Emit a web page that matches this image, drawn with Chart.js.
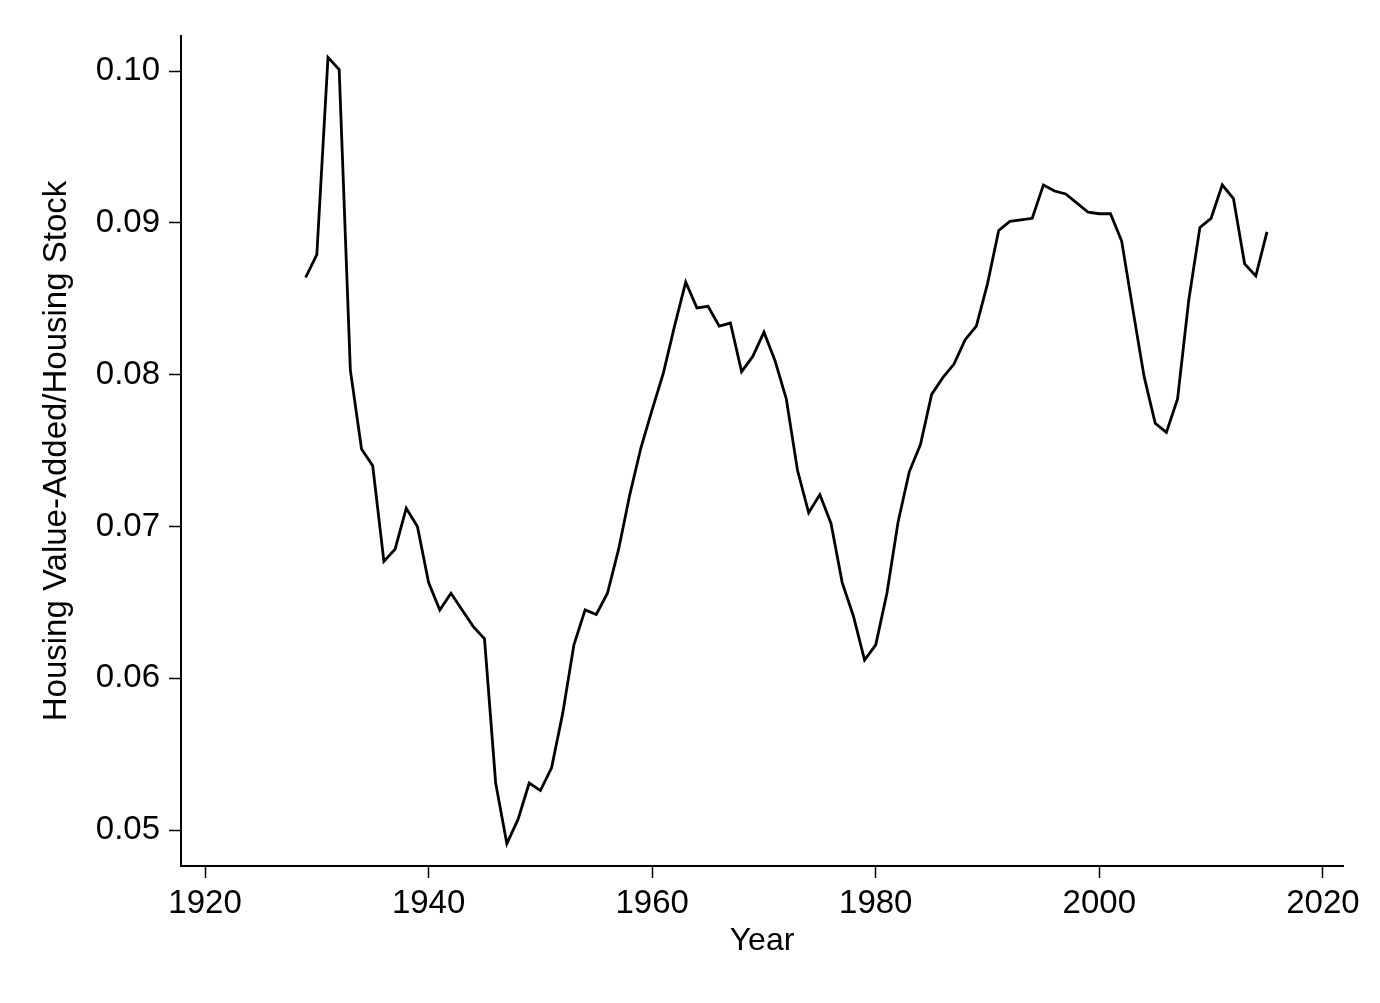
<!DOCTYPE html>
<html>
<head>
<meta charset="utf-8">
<script src="https://cdn.jsdelivr.net/npm/chart.js@4"></script>
<style>
  body { margin: 0; background: #fff; }
  #wrap { width: 1380px; height: 1003px; }
</style>
</head>
<body>
<div id="wrap"><canvas id="myChart"></canvas></div>
<script>
const years = [
  1929,
  1930, 1931, 1932, 1933, 1934, 1935, 1936, 1937, 1938, 1939,
  1940, 1941, 1942, 1943, 1944, 1945, 1946, 1947, 1948, 1949,
  1950, 1951, 1952, 1953, 1954, 1955, 1956, 1957, 1958, 1959,
  1960, 1961, 1962, 1963, 1964, 1965, 1966, 1967, 1968, 1969,
  1970, 1971, 1972, 1973, 1974, 1975, 1976, 1977, 1978, 1979,
  1980, 1981, 1982, 1983, 1984, 1985, 1986, 1987, 1988, 1989,
  1990, 1991, 1992, 1993, 1994, 1995, 1996, 1997, 1998, 1999,
  2000, 2001, 2002, 2003, 2004, 2005, 2006, 2007, 2008, 2009,
  2010, 2011, 2012, 2013, 2014, 2015,
];

const ratio = [
  0.0864,
  0.0879, 0.1009, 0.1001, 0.0803, 0.0751, 0.0740, 0.0677, 0.0685, 0.0712, 0.0700,
  0.0663, 0.0645, 0.0656, 0.0645, 0.0634, 0.0626, 0.0531, 0.0491, 0.0507, 0.0531,
  0.0526, 0.0541, 0.0577, 0.0622, 0.0645, 0.0642, 0.0656, 0.0685, 0.0721, 0.0752,
  0.0777, 0.0801, 0.0832, 0.0861, 0.0844, 0.0845, 0.0832, 0.0834, 0.0802, 0.0812,
  0.0828, 0.0809, 0.0784, 0.0737, 0.0709, 0.0721, 0.0702, 0.0663, 0.0641, 0.0612,
  0.0622, 0.0656, 0.0703, 0.0736, 0.0754, 0.0787, 0.0798, 0.0807, 0.0823, 0.0832,
  0.0860, 0.0895, 0.0901, 0.0902, 0.0903, 0.0925, 0.0921, 0.0919, 0.0913, 0.0907,
  0.0906, 0.0906, 0.0888, 0.0843, 0.0799, 0.0768, 0.0762, 0.0784, 0.0849, 0.0897,
  0.0903, 0.0925, 0.0916, 0.0873, 0.0865, 0.0894,
];

const xTicks = [1920, 1940, 1960, 1980, 2000, 2020];
const yTicks = [0.05, 0.06, 0.07, 0.08, 0.09, 0.10];

const FONT = '"Liberation Sans", Arial, Helvetica, sans-serif';

const ctx = document.getElementById('myChart').getContext('2d');

const myChart = new Chart(ctx, {
  type: 'line',
  data: {
    datasets: [{
      data: years.map((yr, i) => ({ x: yr, y: ratio[i] })),
      borderColor: '#000',
      borderWidth: 2.8,
      pointRadius: 0,
      tension: 0,
      fill: false,
    }],
  },
  options: {
    responsive: true,
    maintainAspectRatio: false,
    animation: false,
    layout: {
      padding: { top: 36, right: 37, left: 0, bottom: 0 },
    },
    plugins: {
      legend: { display: false },
      tooltip: { enabled: false },
    },
    scales: {
      x: {
        type: 'linear',
        min: 1917.85,
        max: 2021.8,
        afterBuildTicks: (scale) => { scale.ticks = xTicks.map(v => ({ value: v })); },
        afterFit: (scale) => { scale.height = 137; },
        grid: {
          drawOnChartArea: false,
          drawTicks: true,
          tickLength: 12,
          tickWidth: 1.5,
          tickColor: '#000',
        },
        border: { display: true, color: '#000', width: 2 },
        ticks: {
          color: '#000',
          padding: 6,
          maxRotation: 0,
          font: { family: FONT, size: 33 },
          callback: (v) => String(v),
        },
        title: {
          display: true,
          text: 'Year',
          color: '#000',
          font: { family: FONT, size: 32 },
          padding: { top: 0, bottom: 43 },
        },
      },
      y: {
        min: 0.04763,
        max: 0.10231,
        afterBuildTicks: (scale) => { scale.ticks = yTicks.map(v => ({ value: v })); },
        afterFit: (scale) => { scale.width = 181; },
        grid: {
          drawOnChartArea: false,
          drawTicks: true,
          tickLength: 12,
          tickWidth: 1.5,
          tickColor: '#000',
        },
        border: { display: true, color: '#000', width: 2 },
        ticks: {
          color: '#000',
          padding: 9,
          font: { family: FONT, size: 33 },
          callback: (v) => v.toFixed(2),
        },
        title: {
          display: true,
          text: 'Housing Value-Added/Housing Stock',
          color: '#000',
          font: { family: FONT, size: 33 },
          padding: { top: 37, bottom: 0 },
        },
      },
    },
  },
});
</script>
</body>
</html>
